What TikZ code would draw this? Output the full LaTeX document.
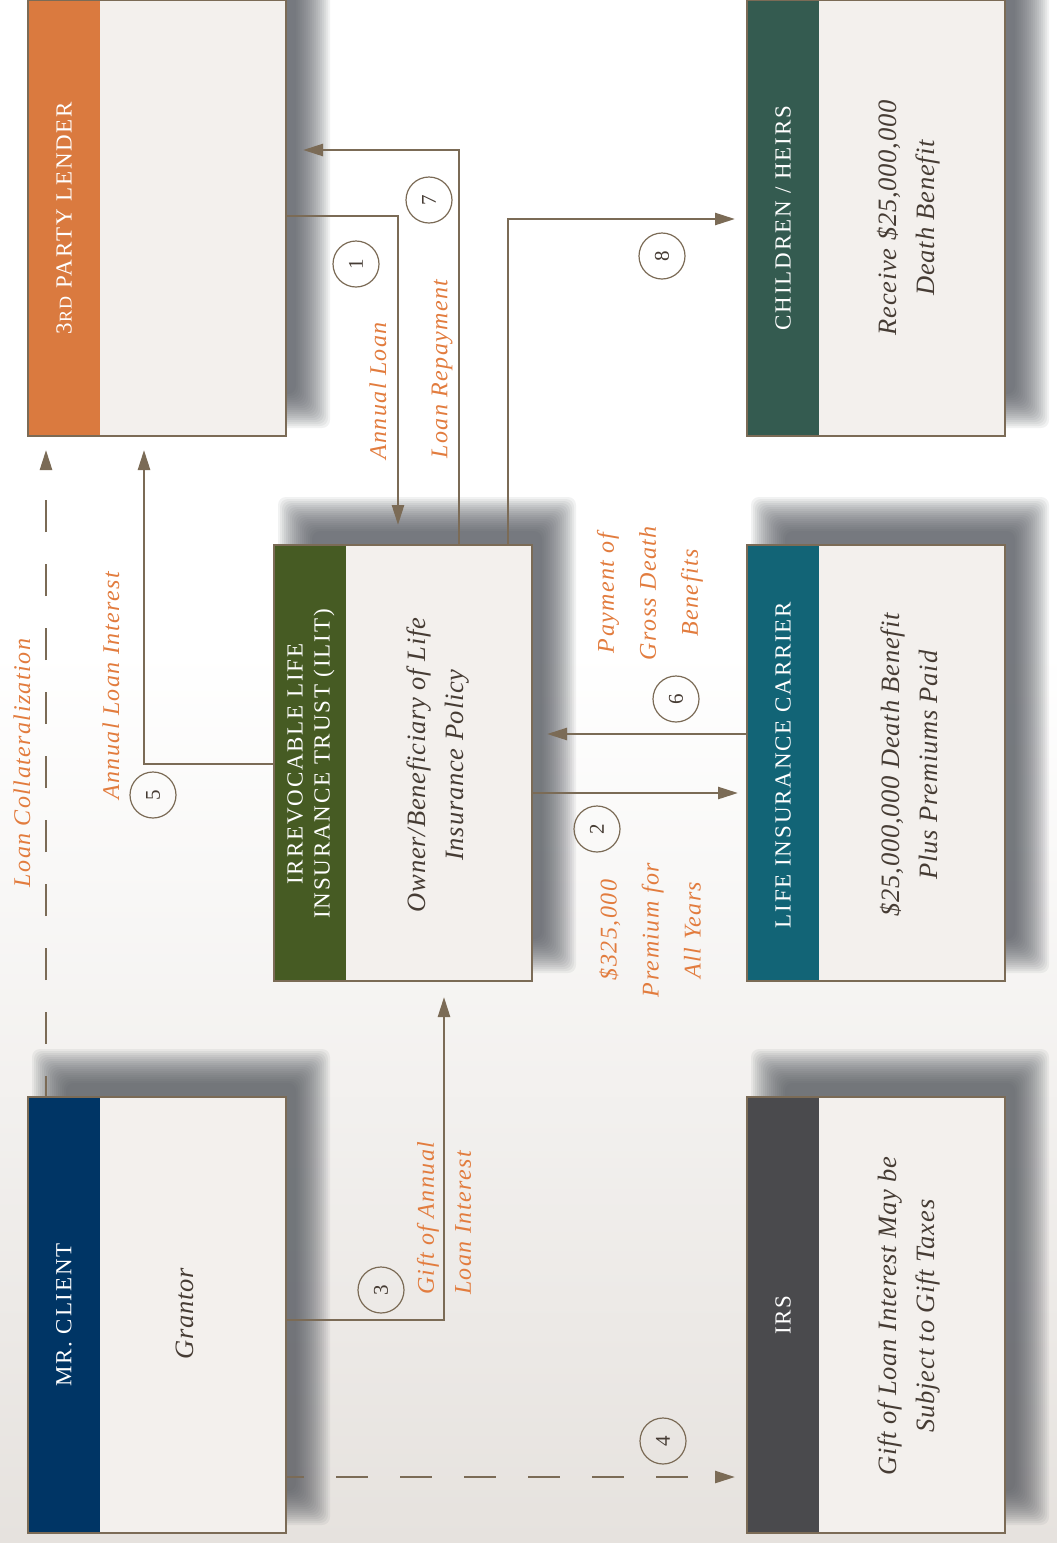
\documentclass[tikz,border=0pt]{standalone}
\usepackage{fontspec}
\setmainfont{Liberation Serif}
\newfontfamily\capsfont[LetterSpace=8]{Liberation Serif}
\newfontfamily\lblfont[LetterSpace=6]{Liberation Serif}
\newfontfamily\bodyfont[LetterSpace=3]{Liberation Serif}
\usetikzlibrary{arrows.meta,calc}
\definecolor{lendercol}{HTML}{DA7A3F}
\definecolor{heirscol}{HTML}{345B50}
\definecolor{ilitcol}{HTML}{465B23}
\definecolor{carriercol}{HTML}{126476}
\definecolor{clientcol}{HTML}{003565}
\definecolor{irscol}{HTML}{4A4A4D}
\definecolor{boxfill}{HTML}{F3F0ED}
\definecolor{edgecol}{HTML}{7B6B56}
\definecolor{bodytext}{HTML}{463C34}
\definecolor{lblorange}{HTML}{E27C3E}
\definecolor{shadowcol}{HTML}{50545B}
\definecolor{bgbottom}{HTML}{E6E2DE}
\pgfdeclarelayer{backlayer}
\pgfdeclarelayer{shadowlayer}
\pgfsetlayers{backlayer,shadowlayer,main}
\newcommand\softshadow[1]{%
  \begin{pgfonlayer}{shadowlayer}
  \foreach \r in {20,18,...,-14}{%
    \fill[shadowcol, fill opacity=0.075, rounded corners=8pt]
      ($(#1.north west)+(24-\r,-28-\r)$) rectangle ($(#1.south east)+(24+\r,-28+\r)$);
  }
  \end{pgfonlayer}}
\begin{document}
\begin{tikzpicture}[x=1pt,y=-1pt,
  card/.style={draw=edgecol, line width=2pt, fill=boxfill, minimum width=258pt,
    minimum height=436pt, inner sep=0pt, outer sep=0pt, anchor=north west,
    path picture={\fill[#1] (path picture bounding box.north west) rectangle
      ([xshift=72pt]path picture bounding box.south west);}},
  conn/.style={draw=edgecol, line width=2.5pt, -{Triangle[length=20pt,width=12pt]}},
  dashconn/.style={conn, dash pattern=on 32pt off 32pt},
  num/.style={circle, draw=edgecol, line width=1.2pt, minimum size=46pt, inner sep=0pt,
    text=bodytext, font=\fontsize{21}{21}\selectfont, rotate=90},
  lbl/.style={text=lblorange, rotate=90, align=center, inner sep=0pt,
    font=\lblfont\itshape\fontsize{24}{42}\selectfont},
  title/.style={text=white, rotate=90, align=center, inner sep=0pt,
    font=\capsfont\fontsize{23}{27}\selectfont},
  body/.style={text=bodytext, rotate=90, align=center, inner sep=0pt,
    font=\bodyfont\itshape\fontsize{26.5}{38}\selectfont}
]
\useasboundingbox (0,0) rectangle (1057,1543);
\begin{pgfonlayer}{backlayer}
\fill[white] (0,0) rectangle (1057,1543);
\shade[top color=white, bottom color=bgbottom] (0,650) rectangle (1057,1543);
\end{pgfonlayer}

% boxes
\node[card=lendercol]  (lender)   at (28,0) {};
\node[card=heirscol]   (children) at (747,0) {};
\node[card=ilitcol]    (ilit)     at (274,545) {};
\node[card=carriercol] (carrier)  at (747,545) {};
\node[card=clientcol]  (client)   at (28,1097) {};
\node[card=irscol]     (irs)      at (747,1097) {};
\softshadow{lender}
\softshadow{children}
\softshadow{ilit}
\softshadow{carrier}
\softshadow{client}
\softshadow{irs}

% titles
\node[title] (tlender) at (64,218) {3{\fontsize{18}{18}\selectfont RD} PARTY LENDER};
\node[title] (theirs) at (783,218) {CHILDREN / HEIRS};
\node[title] (tilit) at (311,764) {IRREVOCABLE LIFE\\INSURANCE TRUST (ILIT)};
\node[title] (tcarrier) at (783,765) {LIFE INSURANCE CARRIER};
\node[title] (tclient) at (64,1315) {MR. CLIENT};
\node[title] (tirs) at (783,1315) {IRS};

% bodies
\node[body] (bheirs) at (909,218) {Receive \$25,000,000\\Death Benefit};
\node[body] (bilit) at (438,765) {Owner/Beneficiary of Life\\Insurance Policy};
\node[body] (bcarrier) at (909,765) {\$25,000,000 Death Benefit\\Plus Premiums Paid};
\node[body] (bclient) at (185,1314) {Grantor};
\node[body] (birs) at (909,1316) {Gift of Loan Interest May be\\Subject to Gift Taxes};

% connectors
\draw[conn, shorten >=20pt] ($(lender.north east)+(0,216)$) -| ($(ilit.north west)+(124,0)$);
\draw[conn, shorten >=17pt] ($(ilit.north west)+(185,0)$) |- ($(lender.north east)+(0,150)$);
\draw[conn, shorten >=12pt] ($(ilit.north west)+(234,0)$) |- ($(children.north west)+(0,219)$);
\draw[conn, shorten >=14pt] ($(ilit.north west)+(0,219)$) -| ($(lender.south west)+(116,0)$);
\draw[dashconn, shorten >=14pt, dash phase=11pt] ($(client.north west)+(18,0)$) -- ($(lender.south west)+(18,0)$);
\draw[conn, shorten >=16pt] ($(client.north east)+(0,223)$) -| ($(ilit.south west)+(170,0)$);
\draw[dashconn, shorten >=12pt, dash phase=14pt] ($(client.north east)+(0,380)$) -- ($(irs.north west)+(0,380)$);
\draw[conn, shorten >=9pt] ($(ilit.north east)+(0,248)$) -- ($(carrier.north west)+(0,248)$);
\draw[conn, shorten >=15pt] ($(carrier.north west)+(0,189)$) -- ($(ilit.north east)+(0,189)$);

% step numbers
\node[num] (n1) at (356,264) {1};
\node[num] (n2) at (597,829) {2};
\node[num] (n3) at (381,1290) {3};
\node[num] (n4) at (663,1441) {4};
\node[num] (n5) at (153,795) {5};
\node[num] (n6) at (676,699) {6};
\node[num] (n7) at (429,200) {7};
\node[num] (n8) at (662,256) {8};

% labels
\node[lbl] (lannual) at (378,391) {Annual Loan};
\node[lbl] (lrepay) at (442,369) {Loan Repayment};
\node[lbl] (linterest) at (111,686) {Annual Loan Interest};
\node[lbl] (lcollat) at (22,763) {Loan Collateralization};
\node[lbl] (lpayment) at (650,593) {Payment of\\Gross Death\\Benefits};
\node[lbl] (lpremium) at (650,930) {\$325,000\\Premium for\\All Years};
\node[lbl, anchor=west, align=left, font=\lblfont\itshape\fontsize{24}{37}\selectfont] (lgift) at (444,1295) {Gift of Annual\\Loan Interest};
\end{tikzpicture}
\end{document}
